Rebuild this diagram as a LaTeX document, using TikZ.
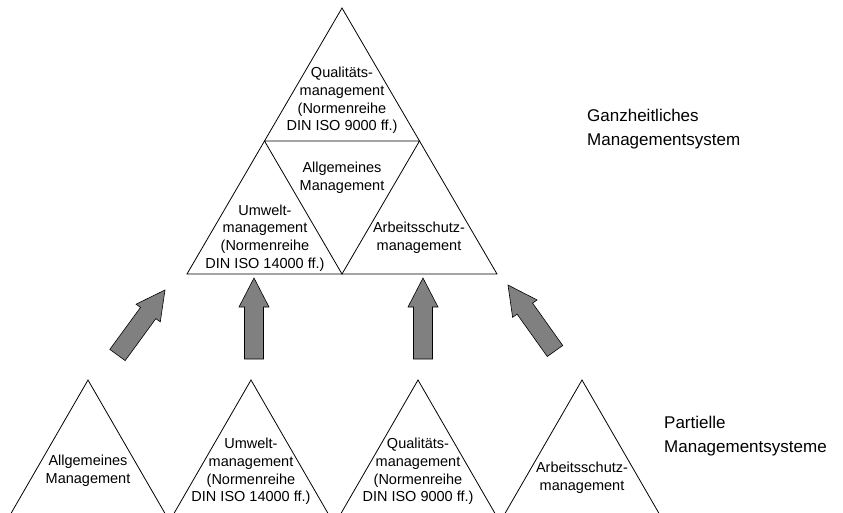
\documentclass[tikz,border=0pt]{standalone}
\usepackage{fontspec}
\setmainfont{Liberation Sans}
\usetikzlibrary{calc}
\begin{document}
\begin{tikzpicture}[x=1pt,y=-1pt,
  tri/.style={draw=black, line width=0.8pt, line join=miter},
  lbl/.style={align=center, font=\fontsize{14.5}{17.8}\selectfont, inner sep=0pt},
  side/.style={align=left, anchor=west, font=\fontsize{17}{23.5}\selectfont, inner sep=0pt},
  fat/.style={draw=black, fill=gray, line width=0.6pt, line join=miter}]
\useasboundingbox (0,0) rectangle (843,512);

% block arrow from tail #1 to tip #2
\newcommand\fatarrow[2]{%
  \coordinate (hb) at ($(#1)!52pt!(#2)$);
  \draw[fat] ($(#1)!9.5pt!90:(#2)$) -- ($(hb)!9.5pt!90:(#2)$) -- ($(hb)!15pt!90:(#2)$)
    -- (#2) -- ($(hb)!15pt!-90:(#2)$) -- ($(hb)!9.5pt!-90:(#2)$) -- ($(#1)!9.5pt!-90:(#2)$) -- cycle;}

% integrated system: large triangle split into four
\coordinate (T) at (342,8);
\coordinate (L) at (187,274);
\coordinate (R) at (497,274);
\coordinate (ML) at ($(T)!0.5!(L)$);
\coordinate (MR) at ($(T)!0.5!(R)$);
\coordinate (MB) at ($(L)!0.5!(R)$);
\draw[tri] (T) -- (L) -- (R) -- cycle;
\draw[tri] (ML) -- (MR) -- (MB) -- cycle;

\node[lbl] (topq) at (342,100.5) {Qualitäts-\\management\\(Normenreihe\\DIN ISO 9000 ff.)};
\node[lbl] (topa) at (342,178) {Allgemeines\\Management};
\node[lbl] (topu) at (265,238) {Umwelt-\\management\\(Normenreihe\\DIN ISO 14000 ff.)};
\node[lbl] (tops) at (419,238) {Arbeitsschutz-\\management};
\node[side] (ganz) at (587,129) {Ganzheitliches\\Managementsystem};

% partial systems: four separate triangles
\begin{scope}
\clip (0,0) rectangle (843,512);
\foreach \n/\x in {b1/88, b2/251, b3/418, b4/582}{
  \coordinate (\n) at (\x,380);
  \draw[tri] (\n) -- ++(-77,133.4) -- ++(154,0) -- cycle;
}
\end{scope}
\node[lbl] (ba) at (88,471) {Allgemeines\\Management};
\node[lbl] (bu) at (251,471.5) {Umwelt-\\management\\(Normenreihe\\DIN ISO 14000 ff.)};
\node[lbl] (bq) at (418,471.5) {Qualitäts-\\management\\(Normenreihe\\DIN ISO 9000 ff.)};
\node[lbl] (bs) at (582,478) {Arbeitsschutz-\\management};
\node[side] (part) at (664,436) {Partielle\\Managementsysteme};

% arrows from the partial systems up to the integrated one
\coordinate (a1t) at (117.5,355); \coordinate (a1h) at (165,290);
\coordinate (a2t) at (254,359);   \coordinate (a2h) at (254,278);
\coordinate (a3t) at (423,359);   \coordinate (a3h) at (423,278);
\coordinate (a4t) at (555,351);   \coordinate (a4h) at (508,285);
\fatarrow{a1t}{a1h}
\fatarrow{a2t}{a2h}
\fatarrow{a3t}{a3h}
\fatarrow{a4t}{a4h}
\end{tikzpicture}
\end{document}
